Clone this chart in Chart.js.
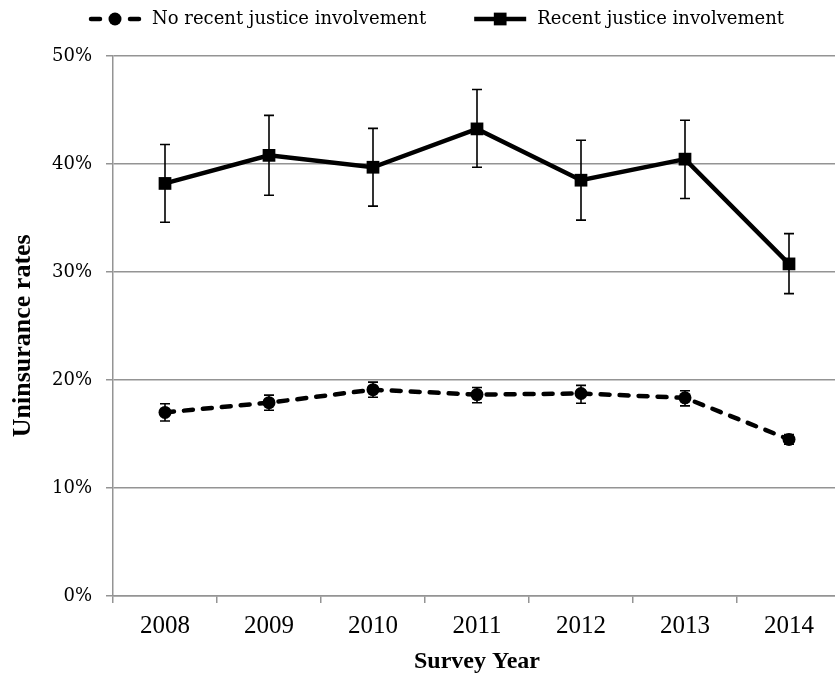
<!DOCTYPE html>
<html>
<head>
<meta charset="utf-8">
<script src="https://cdn.jsdelivr.net/npm/chart.js@4/dist/chart.umd.min.js"></script>
<style>
  html, body { margin: 0; padding: 0; background: #fff; overflow: hidden; }
  canvas { display: block; }
</style>
</head>
<body>
<canvas id="myChart" width="850" height="676"></canvas>
<script>
const years = ['2008', '2009', '2010', '2011', '2012', '2013', '2014']

// uninsurance rate (%) with error bar ends
const noRecent     = [17.0, 17.9, 19.1, 18.65, 18.75, 18.35, 14.5]
const noRecentLow  = [16.2, 17.2, 18.4, 17.9, 17.85, 17.6, 14.05]
const noRecentHigh = [17.8, 18.6, 19.8, 19.3, 19.5, 19.0, 14.95]

const recent     = [38.2, 40.8, 39.7, 43.25, 38.5, 40.45, 30.75]
const recentLow  = [34.6, 37.1, 36.1, 39.7, 34.8, 36.8, 28.0]
const recentHigh = [41.8, 44.5, 43.3, 46.9, 42.2, 44.05, 33.55]

const yTicks = [0, 10, 20, 30, 40, 50]

const gridGray = '#949494'

const errorBars = {
  id: 'errorBars',
  beforeDatasetsDraw(chart) {
    const { ctx, scales: { x, y } } = chart
    ctx.save()
    ctx.strokeStyle = '#000'
    ctx.lineWidth = 1.6
    chart.data.datasets.forEach(ds => {
      ds.errLow.forEach((lo, j) => {
        const px = x.getPixelForValue(j)
        const y1 = y.getPixelForValue(lo)
        const y2 = y.getPixelForValue(ds.errHigh[j])
        ctx.beginPath()
        ctx.moveTo(px, y1); ctx.lineTo(px, y2)
        ctx.moveTo(px - 5, y1); ctx.lineTo(px + 5, y1)
        ctx.moveTo(px - 5, y2); ctx.lineTo(px + 5, y2)
        ctx.stroke()
      })
    })
    ctx.restore()
  }
}

// legend drawn by hand: line sample with marker, then label
const lineLegend = {
  id: 'lineLegend',
  afterDraw(chart) {
    const ctx = chart.ctx
    const y = 19
    let x = 89
    ctx.save()
    ctx.font = '18px "DejaVu Serif"'
    ctx.textBaseline = 'middle'
    ctx.fillStyle = '#000'
    ctx.strokeStyle = '#000'
    chart.data.datasets.forEach(ds => {
      ctx.lineWidth = 4.5
      ctx.lineCap = 'round'
      ctx.beginPath()
      if (ds.borderDash.length) {
        ctx.moveTo(x + 2, y); ctx.lineTo(x + 11, y)
        ctx.moveTo(x + 41, y); ctx.lineTo(x + 50, y)
      } else {
        ctx.lineCap = 'butt'
        ctx.moveTo(x, y); ctx.lineTo(x + 52, y)
      }
      ctx.stroke()
      const cx = x + 26
      if (ds.pointStyle === 'circle') {
        ctx.beginPath()
        ctx.arc(cx, y, ds.pointRadius, 0, Math.PI * 2)
        ctx.fill()
      } else {
        const s = ds.pointRadius * Math.SQRT2
        ctx.fillRect(cx - s / 2, y - s / 2, s, s)
      }
      ctx.fillText(ds.label, x + 63, y)
      x += 63 + ctx.measureText(ds.label).width + 48
    })
    ctx.restore()
  }
}

const ctx = document.getElementById('myChart')

new Chart(ctx, {
  type: 'line',
  data: {
    labels: years,
    datasets: [{
      label: 'No recent justice involvement',
      data: noRecent,
      errLow: noRecentLow,
      errHigh: noRecentHigh,
      borderColor: '#000',
      backgroundColor: '#000',
      borderWidth: 4.5,
      borderDash: [9, 10],
      borderCapStyle: 'round',
      tension: 0,
      pointStyle: 'circle',
      pointRadius: 6.5,
      pointBorderWidth: 0,
      pointBackgroundColor: '#000'
    }, {
      label: 'Recent justice involvement',
      data: recent,
      errLow: recentLow,
      errHigh: recentHigh,
      borderColor: '#000',
      backgroundColor: '#000',
      borderWidth: 4.5,
      borderDash: [],
      tension: 0,
      pointStyle: 'rect',
      pointRadius: 9,
      pointBorderWidth: 0,
      pointBackgroundColor: '#000'
    }]
  },
  options: {
    responsive: false,
    animation: false,
    layout: { padding: { top: 56, right: 3, left: 0, bottom: 0 } },
    plugins: {
      legend: { display: false },
      tooltip: { enabled: false }
    },
    scales: {
      x: {
        offset: true,
        grid: { offset: true, drawOnChartArea: false, tickLength: 7, color: gridGray, lineWidth: 1.5 },
        border: { color: gridGray, width: 1.5 },
        ticks: { color: '#000', padding: 8, font: { family: '"Liberation Serif"', size: 25 } },
        title: {
          display: true,
          text: 'Survey Year',
          color: '#000',
          padding: 0,
          font: { family: '"Liberation Serif"', size: 24, weight: 'bold' }
        },
        afterFit(scale) { scale.height = 80 }
      },
      y: {
        min: 0,
        max: 50,
        afterBuildTicks(scale) { scale.ticks = yTicks.map(v => ({ value: v })) },
        grid: { color: gridGray, lineWidth: 1.5, tickLength: 7 },
        border: { color: gridGray, width: 1.5 },
        ticks: {
          color: '#000',
          padding: 14,
          font: { family: '"DejaVu Serif"', size: 18 },
          callback: v => v + '%'
        },
        title: {
          display: true,
          text: 'Uninsurance rates   ',
          color: '#000',
          padding: { top: 8, bottom: 0 },
          font: { family: '"Liberation Serif"', size: 26, weight: 'bold' }
        },
        afterFit(scale) { scale.width = 113 }
      }
    }
  },
  plugins: [errorBars, lineLegend]
})
</script>
</body>
</html>
